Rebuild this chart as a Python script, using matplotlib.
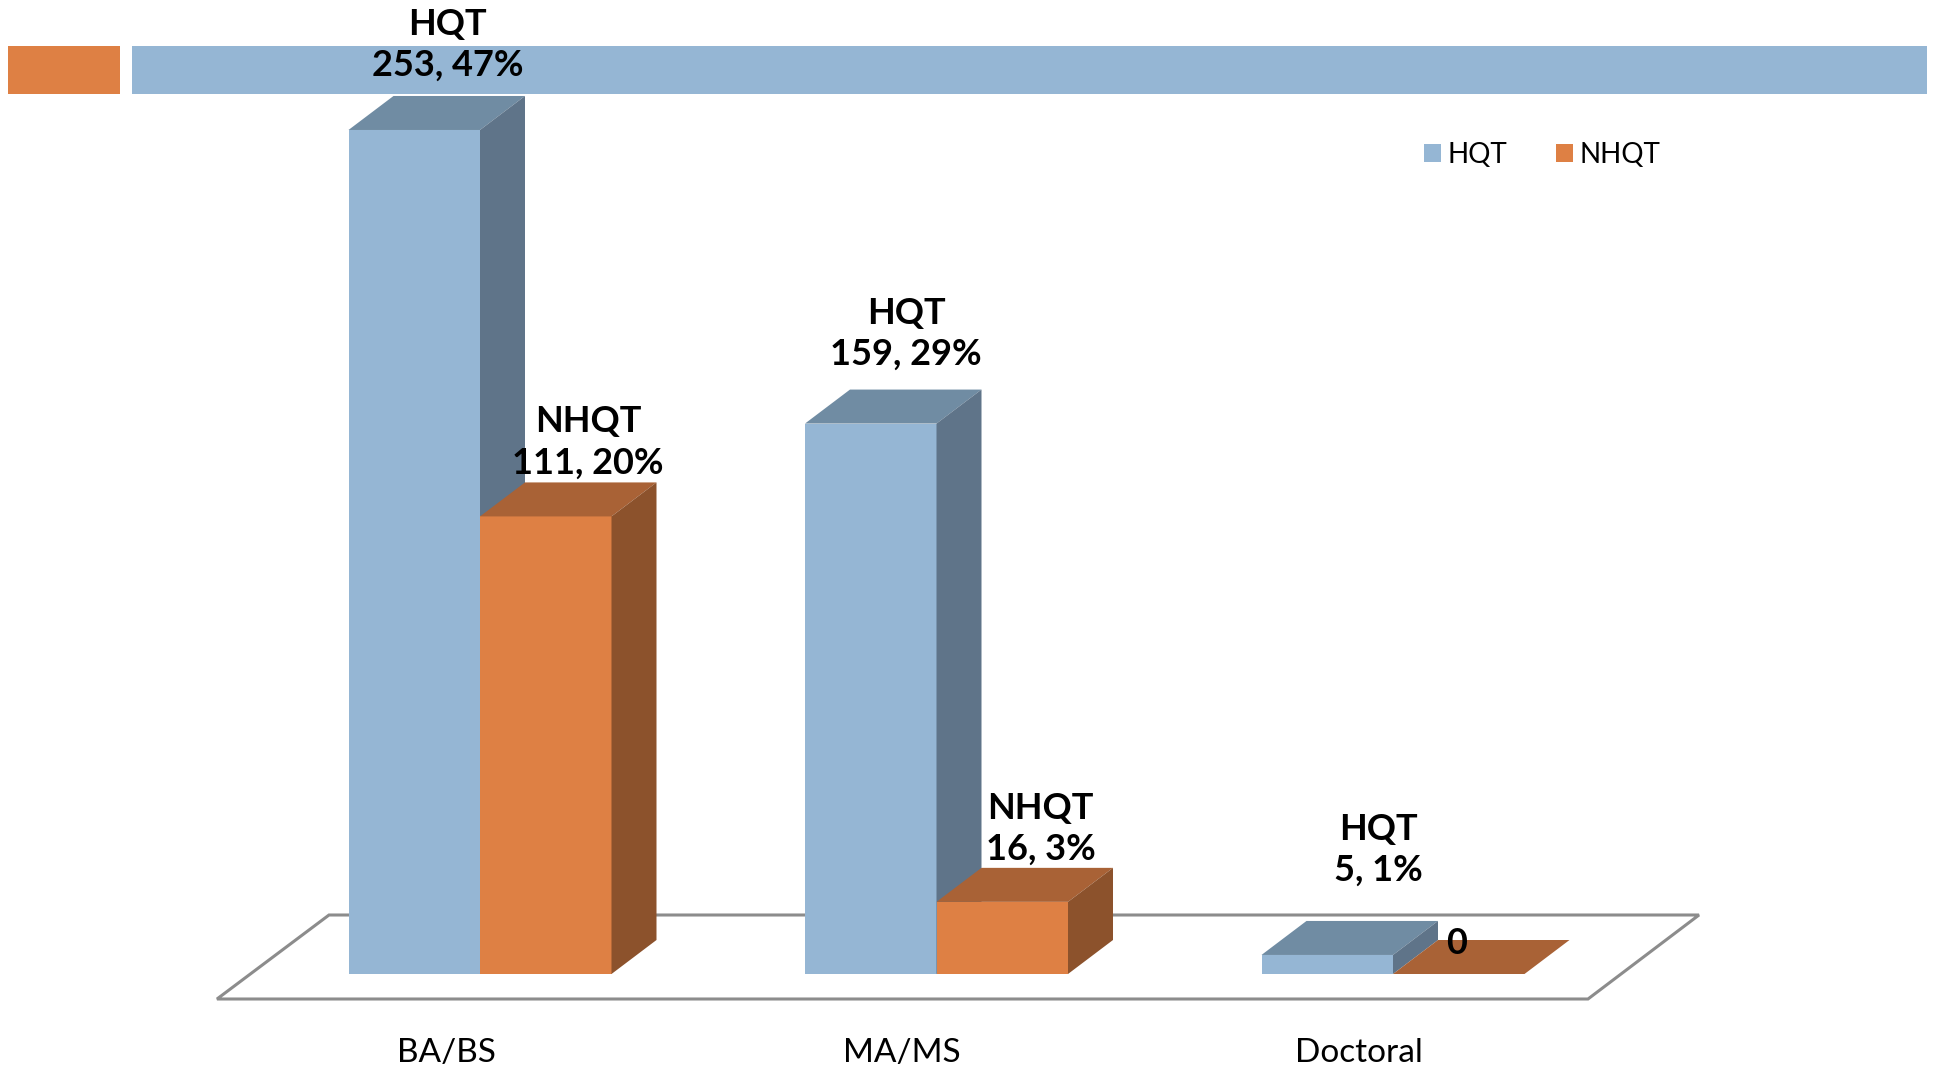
import matplotlib
matplotlib.use("Agg")
import matplotlib.pyplot as plt
from matplotlib.patches import Polygon, Rectangle

W, H = 1937, 1071
plt.rcParams['font.family'] = ['Lato', 'DejaVu Sans']

categories = ["BA/BS", "MA/MS", "Doctoral"]
series_names = ["HQT", "NHQT"]

# printed labels
hqt_labels = ["253, 47%", "159, 29%", "5, 1%"]
nhqt_labels = ["111, 20%", "16, 3%", "0"]

# heights as they are drawn in the picture (the 3d bars are not to scale with the labels)
hqt_heights = [252.7, 164.8, 5.7]
nhqt_heights = [137, 21.6, 0]

# colours: front, top, side
blue = ["#95B6D4", "#708CA3", "#5F7489"]
orange = ["#DE8044", "#A96236", "#8C522C"]
grey = "#8C8C8C"

# scale of the picture
step_px = 456.5
unit_px = 3.34
x0_px = 480     # boundary between the two bars of the first group
y0_px = 974     # bar base

bar_w = 131.5 / step_px
dx = 45 / step_px
dy = 34 / unit_px

fig = plt.figure(figsize=(W / 100, H / 100), dpi=100)
ax = fig.add_axes([0, 0, 1, 1])
ax.set_xlim(-x0_px / step_px, (W - x0_px) / step_px)
ax.set_ylim(-(H - y0_px) / unit_px, y0_px / unit_px)
ax.axis("off")


def px(x, y):
    # picture pixels -> axes fraction
    return x / W, 1 - y / H


# header strips
for x1, x2, c in [(8, 120, orange[0]), (132, 1927, blue[0])]:
    ax.add_patch(Rectangle(px(x1, 94), (x2 - x1) / W, 48 / H, transform=ax.transAxes,
                           color=c, lw=0, zorder=1))

# floor
floor = [px(217, 999), px(329, 915), px(1699, 915), px(1588, 999)]
ax.add_patch(Polygon(floor, closed=True, transform=ax.transAxes, fill=False,
                     edgecolor=grey, lw=2.2, joinstyle="miter", zorder=2))


def bar3d(x, h, cols):
    ax.bar(x, h, width=bar_w, align="edge", color=cols[0], lw=0, zorder=3)
    ax.add_patch(Polygon([(x, h), (x + dx, h + dy), (x + bar_w + dx, h + dy), (x + bar_w, h)],
                         closed=True, color=cols[1], lw=0, zorder=3))
    ax.add_patch(Polygon([(x + bar_w, 0), (x + bar_w + dx, dy), (x + bar_w + dx, h + dy), (x + bar_w, h)],
                         closed=True, color=cols[2], lw=0, zorder=3))


for i in range(len(categories)):
    bar3d(i - bar_w, hqt_heights[i], blue)
    bar3d(i, nhqt_heights[i], orange)


def label(xy, offset, name, value):
    txt = value if name is None else name + "\n" + value
    ax.annotate(txt, xy=xy, xytext=offset, textcoords="offset pixels", ha="center", va="center",
                fontsize=26, fontweight="bold", color="black", linespacing=1.3, zorder=5)


# label offsets from the bar's top left corner, in pixels
hqt_off = [(99, 85), (101, 90), (117, 105)]
nhqt_off = [(108, 74), (104, 73)]
for i in range(3):
    label((i - bar_w, hqt_heights[i]), hqt_off[i], series_names[0], hqt_labels[i])
    if nhqt_heights[i] > 0:
        label((i, nhqt_heights[i]), nhqt_off[i], series_names[1], nhqt_labels[i])
    else:
        label((i, nhqt_heights[i]), (64, 30), None, nhqt_labels[i])

# category names
name_x = [446, 902, 1359]
for n, x in zip(categories, name_x):
    ax.text(*px(x, 1053), n, transform=ax.transAxes, ha="center", va="center",
            fontsize=24, color="black")

handles = [Rectangle((0, 0), 1, 1, color=blue[0], lw=0), Rectangle((0, 0), 1, 1, color=orange[0], lw=0)]
ax.legend(handles, series_names, ncol=2, loc="center left", bbox_to_anchor=px(1416, 155),
          bbox_transform=ax.transAxes, frameon=False, fontsize=20, handlelength=0.6, handleheight=0.6,
          handletextpad=0.25, columnspacing=1.75, borderpad=0, borderaxespad=0.3)

fig.savefig("out.png", dpi=100)
